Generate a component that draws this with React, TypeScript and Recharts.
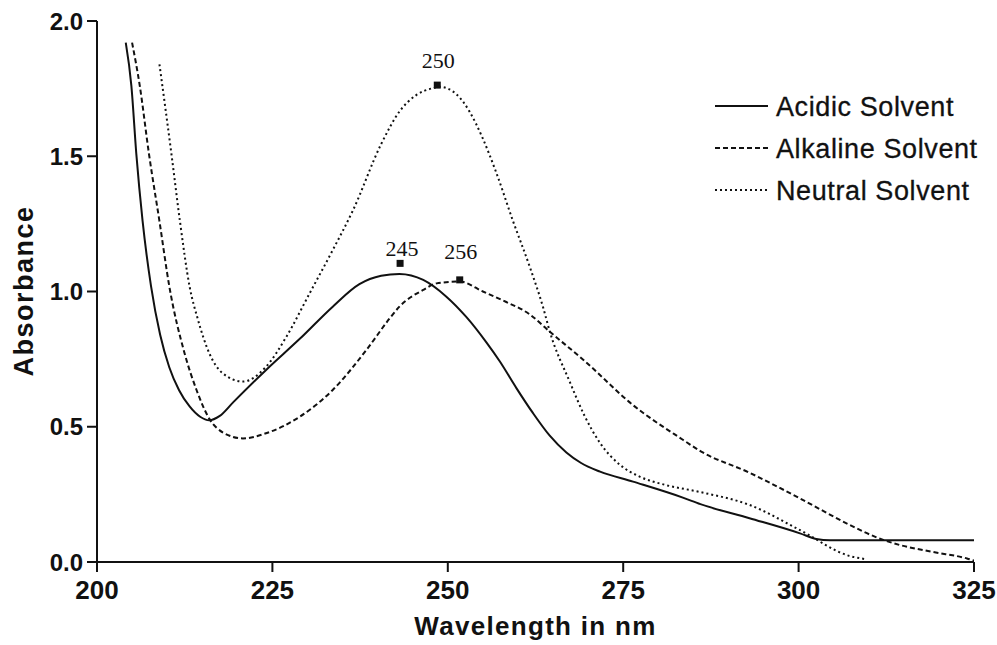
import React from 'react';
import { LineChart, Line, XAxis, YAxis, ReferenceDot, Label } from 'recharts';

// wavelength (nm), absorbance
const acidic: [number, number][] = [
  [204.1, 1.92], [204.9, 1.76], [205.6, 1.51], [206.5, 1.26], [207.7, 1.02],
  [209.0, 0.84], [210.3, 0.72], [211.7, 0.635], [213.2, 0.575], [214.7, 0.537],
  [216.0, 0.524], [217.5, 0.54], [219.4, 0.59], [224.1, 0.71], [228.9, 0.825],
  [233.6, 0.944], [237.4, 1.027], [240.5, 1.058], [243.1, 1.065], [246.5, 1.043],
  [249.8, 0.981], [252.6, 0.907], [255.5, 0.812], [257.4, 0.742], [259.8, 0.642],
  [262.1, 0.552], [264.5, 0.468], [266.9, 0.405], [269.0, 0.366], [271.7, 0.334],
  [276.4, 0.297], [283.5, 0.238], [286.0, 0.214], [293.0, 0.162], [300.2, 0.106],
  [302.5, 0.085], [304.5, 0.08], [325, 0.08],
];

const alkaline: [number, number][] = [
  [205.0, 1.92], [206.1, 1.76], [207.4, 1.51], [208.9, 1.26], [210.3, 1.02],
  [212.5, 0.77], [214.2, 0.635], [216.0, 0.53], [218.0, 0.478], [220.8, 0.457],
  [224.1, 0.476], [228.9, 0.537], [233.6, 0.636], [238.4, 0.784], [241.7, 0.90],
  [243.1, 0.944], [246.5, 1.006], [248.4, 1.03], [251.7, 1.037], [255.0, 1.0],
  [258.0, 0.965], [261.7, 0.915], [264.5, 0.852], [269.3, 0.748], [276.4, 0.58],
  [283.5, 0.452], [286.0, 0.41], [293.0, 0.33], [300.2, 0.235], [307.3, 0.137],
  [311.6, 0.086], [314.4, 0.063], [319.2, 0.037], [324.0, 0.013], [325, 0.005],
];

const neutral: [number, number][] = [
  [208.9, 1.84], [210.6, 1.51], [211.8, 1.264], [213.2, 1.018], [214.4, 0.895],
  [216.0, 0.772], [217.9, 0.698], [220.8, 0.667], [224.1, 0.722], [227.0, 0.833],
  [230.3, 0.993], [233.6, 1.153], [236.5, 1.301], [240.5, 1.545], [243.1, 1.665],
  [245.5, 1.726], [247.9, 1.752], [248.8, 1.757], [251.2, 1.73], [253.1, 1.665],
  [255.0, 1.565], [256.9, 1.44], [259.3, 1.26], [261.7, 1.09], [263.6, 0.94],
  [264.5, 0.855], [267.4, 0.665], [269.5, 0.54], [271.7, 0.44], [274.5, 0.36],
  [277.4, 0.315], [281.0, 0.285], [285.9, 0.259], [293.0, 0.211], [300.2, 0.118],
  [307.3, 0.022], [309.7, 0.01],
];

const xTicks = [200, 225, 250, 275, 300, 325];
const yTicks = [0, 0.5, 1.0, 1.5, 2.0];

// peak markers: wavelength, absorbance, label
const peakX = [248.5, 243.2, 251.7];
const peakY = [1.763, 1.104, 1.043];
const peakLabels = ['250', '245', '256'];
const peakLabelOffset = [
  { dx: 1, dy: -17 },
  { dx: 2, dy: -7 },
  { dx: 1, dy: -21 },
];

const seriesNames = ['Acidic Solvent', 'Alkaline Solvent', 'Neutral Solvent'];
const seriesDash = ['0', '5 3', '2 3'];

const toPoints = (arr: [number, number][]) => arr.map(([x, y]) => ({ x, y }));

const INK = '#111';
const SANS = '"Liberation Sans", Arial, sans-serif';

const LegendBox = () => (
  <svg width={280} height={130} style={{ position: 'absolute', left: 713, top: 88 }}>
    {seriesNames.map((name, i) => (
      <g key={name}>
        <line x1={2} x2={55} y1={18 + i * 42} y2={18 + i * 42} stroke={INK} strokeWidth={2}
          strokeDasharray={seriesDash[i]} />
        <text x={63} y={28 + i * 42} fontFamily={SANS} fontSize={27} letterSpacing={0.6}
          fill={INK} stroke={INK} strokeWidth={0.3}>{name}</text>
      </g>
    ))}
  </svg>
);

export default function App() {
  return (
    <div style={{ position: 'absolute', left: 0, top: 0, width: 997, height: 645, background: '#fff' }}>
      <LineChart width={997} height={645} margin={{ top: 21, right: 23, bottom: 23, left: 0 }}>
        <XAxis
          type="number"
          dataKey="x"
          domain={[200, 325]}
          ticks={xTicks}
          allowDataOverflow
          height={60}
          tickSize={10}
          tickMargin={9}
          stroke={INK}
          strokeWidth={2}
          tick={{ fill: INK, fontFamily: SANS, fontSize: 26, fontWeight: 700 }}
        >
          <Label
            content={({ viewBox }: any) => (
              <text x={viewBox.x + viewBox.width / 2} y={viewBox.y + 73} textAnchor="middle"
                fontFamily={SANS} fontSize={26} fontWeight={700} letterSpacing={1.3} fill={INK}>
                Wavelength in nm
              </text>
            )}
          />
        </XAxis>
        <YAxis
          type="number"
          domain={[0, 2]}
          ticks={yTicks}
          width={97}
          tickSize={10}
          tickMargin={4}
          stroke={INK}
          strokeWidth={2}
          tickFormatter={(v: number) => v.toFixed(1)}
          tick={{ fill: INK, fontFamily: SANS, fontSize: 24, fontWeight: 700 }}
        >
          <Label
            content={() => (
              <text transform="translate(33,291) rotate(-90)" x={0} y={0} textAnchor="middle"
                fontFamily={SANS} fontSize={27} fontWeight={700} letterSpacing={1.5} fill={INK}>
                Absorbance
              </text>
            )}
          />
        </YAxis>
        <Line data={toPoints(acidic)} dataKey="y" name={seriesNames[0]} type="monotone" dot={false}
          stroke={INK} strokeWidth={2} isAnimationActive={false} />
        <Line data={toPoints(alkaline)} dataKey="y" name={seriesNames[1]} type="monotone" dot={false}
          stroke={INK} strokeWidth={2} strokeDasharray={seriesDash[1]} isAnimationActive={false} />
        <Line data={toPoints(neutral)} dataKey="y" name={seriesNames[2]} type="monotone" dot={false}
          stroke={INK} strokeWidth={2} strokeDasharray={seriesDash[2]} isAnimationActive={false} />
        {peakX.map((px, i) => (
          <ReferenceDot
            key={peakLabels[i]}
            x={px}
            y={peakY[i]}
            shape={(p: any) => (
              <g>
                <rect x={p.cx - 3.5} y={p.cy - 3.5} width={7} height={7} fill={INK} />
                <text x={p.cx + peakLabelOffset[i].dx} y={p.cy + peakLabelOffset[i].dy} textAnchor="middle"
                  fontFamily='"Liberation Serif", "Times New Roman", serif' fontSize={22} fill={INK}>
                  {peakLabels[i]}
                </text>
              </g>
            )}
          />
        ))}
      </LineChart>
      <LegendBox />
    </div>
  );
}
